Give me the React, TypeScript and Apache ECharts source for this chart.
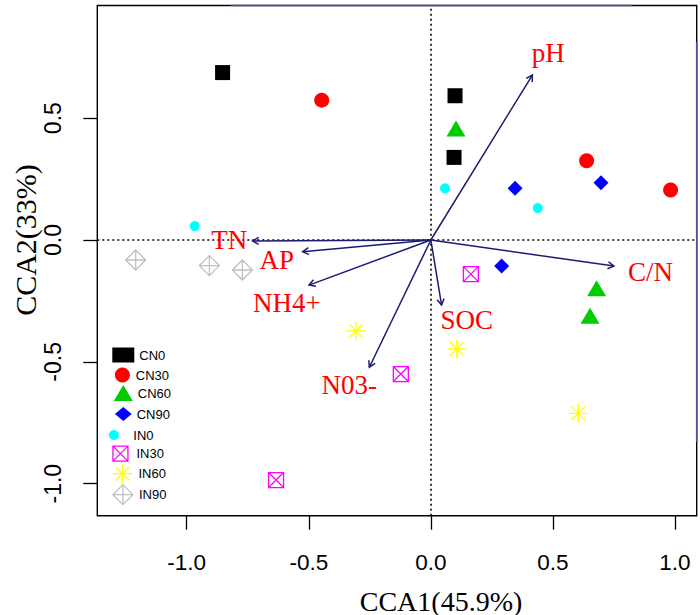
import React, { useEffect, useRef } from "react";
import * as echarts from "echarts";

// ---- data ----
const groups = ["CN0", "CN30", "CN60", "CN90", "IN0", "IN30", "IN60", "IN90"];

const cn0X = [-0.853, 0.099, 0.095];
const cn0Y = [0.687, 0.592, 0.339];
const cn30X = [-0.447, 0.638, 0.982];
const cn30Y = [0.574, 0.325, 0.205];
const cn60X = [0.103, 0.679, 0.652];
const cn60Y = [0.458, -0.198, -0.311];
const cn90X = [0.345, 0.697, 0.29];
const cn90Y = [0.212, 0.235, -0.107];
const in0X = [-0.967, 0.058, 0.438];
const in0Y = [0.057, 0.212, 0.131];
const in30X = [0.164, -0.123, -0.634];
const in30Y = [-0.14, -0.55, -0.985];
const in60X = [-0.307, 0.106, 0.604];
const in60Y = [-0.373, -0.447, -0.711];
const in90X = [-1.209, -0.907, -0.772];
const in90Y = [-0.082, -0.105, -0.123];

const envNames = ["pH", "C/N", "TN", "AP", "NH4+", "N03-", "SOC"];
const envX = [0.416, 0.75, -0.73, -0.525, -0.499, -0.252, 0.044];
const envY = [0.677, -0.107, -0.004, -0.048, -0.185, -0.522, -0.267];
const envLabelX = [0.481, 0.9, -0.826, -0.631, -0.59, -0.334, 0.147];
const envLabelY = [0.766, -0.13, 0.0, -0.082, -0.257, -0.595, -0.328];

const tickValues = [-1, -0.5, 0, 0.5, 1];
const xTitle = "CCA1(45.9%)";
const yTitle = "CCA2(33%)";

const xs = [cn0X, cn30X, cn60X, cn90X, in0X, in30X, in60X, in90X];
const ys = [cn0Y, cn30Y, cn60Y, cn90Y, in0Y, in30Y, in60Y, in90Y];

// ---- styles ----
const BOXX = "path://M0,0L10,0L10,10L0,10Z M0,0L10,10 M10,0L0,10";
const STAR = "path://M5,0L5,10 M0,5L10,5 M1.5,1.5L8.5,8.5 M8.5,1.5L1.5,8.5";
const DIAPLUS = "path://M5,0L10,5L5,10L0,5Z M5,0L5,10 M0,5L10,5";

const styles: any[] = [
  { symbol: "rect", size: 15, fill: "#000000", stroke: null },
  { symbol: "circle", size: 15, fill: "#ff0000", stroke: null },
  { symbol: "triangle", size: [19, 16], fill: "#00cd00", stroke: null },
  { symbol: "diamond", size: 15, fill: "#0000ff", stroke: null },
  { symbol: "circle", size: 10, fill: "#00ffff", stroke: null },
  { symbol: BOXX, size: 15, fill: "transparent", stroke: "#ff00ff" },
  { symbol: STAR, size: 19, fill: "transparent", stroke: "#ffff00" },
  { symbol: DIAPLUS, size: 20, fill: "transparent", stroke: "#c0c0c0" },
];

// legend layout: [left, centerY, itemWidth, itemHeight, keepAspect]
const legendLayout: any[] = [
  [112.3, 355, 22, 15, true],
  [114.9, 375, 16.8, 15, true],
  [113.8, 393, 19, 16, false],
  [114.9, 414, 16.8, 14, true],
  [108.9, 433.5, 28.8, 10, true],
  [112.3, 453, 22, 15, true],
  [112.3, 473, 22, 19, true],
  [112.3, 494, 22, 20, true],
];

const ARROW = "#1c1c6e";
const NAVY = "#4f4f9f";

const GRID = { left: 97.3, top: 5.5, width: 599.4, height: 510.2 };

export default function App() {
  const ref = useRef<HTMLDivElement>(null);

  useEffect(() => {
    if (!ref.current) return;
    const chart = echarts.init(ref.current, undefined, { renderer: "svg" });

    const scatterSeries = groups.map((g, gi) => {
      const st = styles[gi];
      const s: any = {
        name: g,
        type: "scatter",
        z: 3,
        symbol: st.symbol,
        symbolSize: st.size,
        data: xs[gi].map((x, i) => [x, ys[gi][i]]),
        itemStyle: st.stroke
          ? { color: st.fill, borderColor: st.stroke, borderWidth: 1.3, opacity: 1 }
          : { color: st.fill, borderWidth: 0, opacity: 1 },
        emphasis: { disabled: true },
      };
      if (gi === 0) {
        s.markLine = {
          silent: true,
          symbol: "none",
          label: { show: false },
          z: 1,
          lineStyle: { color: "#000", type: [2, 3], width: 1.6 },
          data: [{ xAxis: 0 }, { yAxis: 0 }],
        };
      }
      return s;
    });

    const legends = groups.map((g, gi) => {
      const [left, cy, w, h, keep] = legendLayout[gi];
      const st = styles[gi];
      return {
        show: true,
        orient: "vertical",
        left,
        top: cy - h / 2,
        padding: 0,
        itemWidth: w,
        itemHeight: h,
        symbolKeepAspect: keep,
        selectedMode: false,
        data: [g],
        itemStyle: st.stroke
          ? { color: st.fill, borderColor: st.stroke, borderWidth: 1.3 }
          : { color: st.fill, borderWidth: 0 },
        textStyle: { fontFamily: "Liberation Sans, Arial", fontSize: 13, color: "#000" },
      };
    });

    const arrowSeries = {
      type: "custom",
      coordinateSystem: "cartesian2d",
      z: 2,
      silent: true,
      data: envNames.map((n, i) => [envX[i], envY[i], envLabelX[i], envLabelY[i]]),
      renderItem: (params: any, api: any) => {
        const o = api.coord([0, 0]);
        const t = api.coord([api.value(0), api.value(1)]);
        const l = api.coord([api.value(2), api.value(3)]);
        const ang = Math.atan2(t[1] - o[1], t[0] - o[0]);
        const h = 7;
        const a = Math.PI / 6;
        const p1 = [t[0] - h * Math.cos(ang - a), t[1] - h * Math.sin(ang - a)];
        const p2 = [t[0] - h * Math.cos(ang + a), t[1] - h * Math.sin(ang + a)];
        return {
          type: "group",
          children: [
            {
              type: "line",
              shape: { x1: o[0], y1: o[1], x2: t[0], y2: t[1] },
              style: { stroke: ARROW, lineWidth: 1.5 },
            },
            {
              type: "polyline",
              shape: { points: [p1, t, p2] },
              style: { stroke: ARROW, lineWidth: 1.5, fill: "none" },
            },
            {
              type: "text",
              x: l[0],
              y: l[1],
              style: {
                text: envNames[params.dataIndex],
                fill: "#ff0000",
                fontFamily: "Liberation Serif, Times New Roman, serif",
                fontSize: 27,
                align: "center",
                verticalAlign: "middle",
              },
            },
          ],
        };
      },
    };

    const fmt = (v: number) => (v === 0 ? "0.0" : v.toFixed(1));

    const option: any = {
      animation: false,
      backgroundColor: "#ffffff",
      grid: {
        ...GRID,
        show: true,
        borderColor: "#000",
        borderWidth: 1.4,
        backgroundColor: "transparent",
        containLabel: false,
      },
      xAxis: {
        type: "value",
        position: "bottom",
        min: -1.3662,
        max: 1.0889,
        axisLine: { show: false, onZero: false },
        splitLine: { show: false },
        axisTick: {
          show: true,
          inside: false,
          length: 14,
          customValues: tickValues,
          lineStyle: { color: "#000", width: 1.3 },
        },
        axisLabel: {
          show: true,
          customValues: tickValues,
          margin: 35.5,
          fontFamily: "Liberation Sans, Arial",
          fontSize: 22.5,
          color: "#000",
          formatter: fmt,
        },
      },
      yAxis: {
        type: "value",
        position: "left",
        min: -1.1313,
        max: 0.9623,
        axisLine: { show: false, onZero: false },
        splitLine: { show: false },
        axisTick: {
          show: true,
          inside: false,
          length: 14,
          customValues: tickValues,
          lineStyle: { color: "#000", width: 1.3 },
        },
        axisLabel: {
          show: true,
          customValues: tickValues,
          rotate: 90,
          margin: 33,
          fontFamily: "Liberation Sans, Arial",
          fontSize: 23,
          color: "#000",
          formatter: fmt,
        },
      },
      legend: legends,
      graphic: [
        {
          type: "line",
          z: 10,
          shape: { x1: 231, y1: 5.5, x2: 632, y2: 5.5 },
          style: { stroke: NAVY, lineWidth: 1.6 },
        },
        {
          type: "line",
          z: 10,
          shape: { x1: 696.7, y1: 42, x2: 696.7, y2: 442 },
          style: { stroke: NAVY, lineWidth: 1.6 },
        },
        {
          type: "text",
          x: 441,
          y: 601,
          style: {
            text: xTitle,
            fill: "#000",
            fontFamily: "Liberation Serif, Times New Roman, serif",
            fontSize: 28,
            align: "center",
            verticalAlign: "middle",
          },
        },
        {
          type: "text",
          x: 25,
          y: 240,
          rotation: Math.PI / 2,
          style: {
            text: yTitle,
            fill: "#000",
            fontFamily: "Liberation Serif, Times New Roman, serif",
            fontSize: 30,
            align: "center",
            verticalAlign: "middle",
          },
        },
      ],
      series: [arrowSeries, ...scatterSeries],
    };

    chart.setOption(option);
    return () => chart.dispose();
  }, []);

  return (
    <div
      ref={ref}
      style={{ position: "fixed", left: 0, top: 0, width: 700, height: 615, background: "#fff" }}
    />
  );
}
